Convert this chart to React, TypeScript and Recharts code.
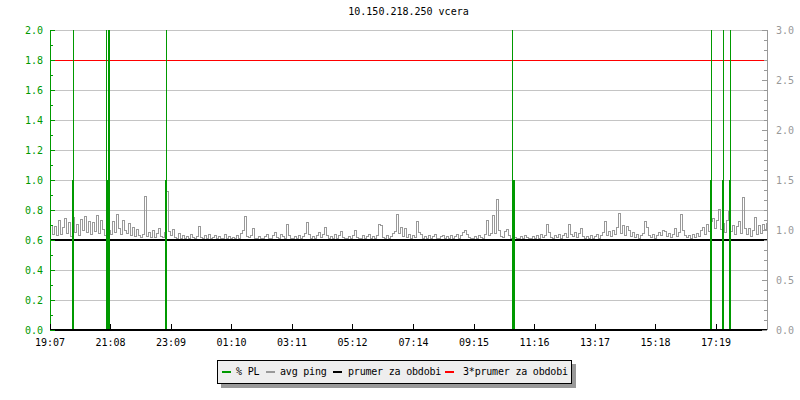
import { CartesianGrid, Line, LineChart, XAxis, YAxis } from 'recharts';

// minutes since 19:07
const timeDomain = [0, 1434];
const timeTicks = [0, 121, 242, 363, 484, 605, 727, 848, 969, 1090, 1211, 1332];
const timeLabels = ['19:07', '21:08', '23:09', '01:10', '03:11', '05:12', '07:14', '09:15', '11:16', '13:17', '15:18', '17:19'];

const plTicks = [0, 0.1, 0.2, 0.3, 0.4, 0.5, 0.6, 0.7, 0.8, 0.9, 1.0, 1.1, 1.2, 1.3, 1.4, 1.5, 1.6, 1.7, 1.8, 1.9, 2.0];
const plGrid = [0.2, 0.4, 0.6, 0.8, 1.0, 1.2, 1.4, 1.6, 1.8, 2.0];
const pingTicks = [
  0, 0.1, 0.2, 0.3, 0.4, 0.5, 0.6, 0.7, 0.8, 0.9, 1.0, 1.1, 1.2, 1.3, 1.4, 1.5,
  1.6, 1.7, 1.8, 1.9, 2.0, 2.1, 2.2, 2.3, 2.4, 2.5, 2.6, 2.7, 2.8, 2.9, 3.0,
];

// avg ping, one sample every 4 minutes
const pingStep = 4;
const pingValues = [
  1.05, 0.96, 1.04, 0.95, 1.1, 0.96, 1.03, 1.12, 0.97, 1.08, 0.94, 1.13, 0.98, 1.06, 0.95, 1.11, 1.0, 1.14, 0.98, 1.09,
  0.96, 1.08, 0.99, 1.15, 0.97, 1.1, 1.01, 0.95, 1.12, 1.0, 0.96, 1.09, 0.98, 1.16, 1.02, 0.96, 1.1, 1.0, 0.97, 1.07,
  0.95, 1.03, 0.94, 1.01, 0.95, 0.93, 0.96, 1.34, 0.94, 0.98, 0.93, 1.0, 0.93, 0.97, 1.02, 0.94, 0.93, 0.98, 1.39, 0.99,
  0.95, 1.01, 0.93, 0.92, 0.97, 0.92, 0.95, 0.92, 0.94, 0.92, 0.96, 0.93, 0.92, 0.94, 1.04, 0.93, 0.92, 0.95, 0.92, 0.96,
  0.92, 0.93, 0.95, 0.92, 0.94, 0.92, 0.92, 0.96, 0.92, 0.94, 0.92, 0.93, 0.92, 0.95, 0.92, 0.97, 1.0, 1.14, 0.94, 0.93,
  0.95, 1.02, 0.92, 0.92, 0.94, 0.92, 0.92, 0.94, 0.96, 0.92, 0.92, 0.95, 0.98, 0.93, 0.92, 0.96, 0.94, 0.92, 1.06, 0.95,
  0.92, 0.92, 0.94, 0.92, 0.95, 0.92, 0.94, 0.97, 1.08, 0.96, 0.92, 0.94, 0.92, 0.95, 0.98, 0.93, 0.96, 1.03, 0.95, 0.92,
  0.94, 0.92, 0.96, 0.92, 0.95, 0.99, 0.93, 0.92, 0.92, 0.94, 0.92, 0.95, 1.0, 0.93, 0.92, 0.92, 0.95, 0.92, 0.94, 0.96,
  0.92, 0.94, 0.92, 0.95, 1.06, 1.05, 0.93, 0.92, 0.95, 0.92, 0.94, 0.97, 0.99, 1.16, 0.97, 1.03, 0.94, 1.02, 0.93, 0.96,
  0.92, 0.95, 0.93, 1.09, 0.98, 0.96, 0.92, 0.94, 0.92, 0.95, 0.92, 0.94, 0.96, 0.92, 0.92, 0.94, 0.95, 0.92, 0.94, 0.92,
  0.95, 0.92, 0.94, 0.96, 0.92, 0.95, 0.98, 1.0, 0.96, 0.93, 0.92, 0.92, 0.94, 0.92, 0.95, 0.93, 0.92, 0.96, 1.1, 0.95,
  0.97, 1.15, 0.97, 1.31, 1.0, 0.94, 0.93, 0.99, 1.01, 0.95, 0.92, 0.95, 0.93, 0.92, 0.92, 0.94, 0.92, 0.95, 0.93, 0.92,
  0.92, 0.94, 0.92, 0.95, 0.92, 0.96, 0.93, 0.95, 1.06, 0.98, 0.93, 0.92, 0.95, 0.93, 0.96, 0.92, 0.95, 0.97, 0.93, 1.06,
  0.96, 0.94, 0.98, 0.93, 0.97, 1.02, 0.94, 0.92, 0.94, 0.92, 0.95, 0.92, 0.94, 0.96, 0.92, 0.95, 0.98, 1.09, 0.95, 0.99,
  0.94, 1.0, 0.96, 1.03, 1.17, 0.97, 1.05, 0.95, 1.04, 1.0, 0.94, 0.98, 0.93, 0.96, 0.92, 0.95, 0.97, 1.09, 1.03, 0.95,
  0.93, 0.96, 0.92, 0.95, 0.98, 0.95, 1.0, 0.99, 0.94, 0.97, 0.93, 0.96, 1.02, 0.94, 0.98, 1.16, 1.0, 0.95, 0.93, 0.95,
  0.92, 0.96, 0.93, 0.97, 0.94, 1.0, 1.03, 0.96, 1.06, 0.99, 1.09, 1.12, 1.02, 1.1, 1.21, 1.01, 1.07, 0.98, 1.1, 1.19,
  0.99, 1.05, 0.96, 1.04, 1.09, 0.97, 1.33, 1.02, 0.96, 1.02, 0.94, 1.0, 1.13, 0.96, 1.05, 0.97, 1.06, 1.01, 1.07,
];

// packet loss events (minute, solid level, thin peak)
const plEvents = [46, 113, 117, 232, 925, 927, 1322, 1346, 1360];
const plLevels = [1.0, 1.0, 2.0, 1.0, 1.0, 1.0, 1.0, 1.0, 1.0];
const plPeaks = [2.0, 2.0, 2.0, 2.0, 2.0, 1.0, 2.0, 2.0, 2.0];

const prumer = 0.9;
const triPrumer = 2.7;

const seriesNames = ['% PL', 'avg ping', 'prumer za obdobi', '3*prumer za obdobi'];
const seriesColors = ['#009900', '#999999', '#000000', '#ff0000'];

const FONT = '"DejaVu Sans Mono", monospace';
const GREEN = '#009900';
const GRAY = '#999999';

const pingData = pingValues.map((v, i) => ({ t: i * pingStep, v }));
const flatData = (v: number) => [
  { t: timeDomain[0], v },
  { t: timeDomain[1], v },
];
const spikes = (vals: number[]) =>
  plEvents.flatMap((t, i) => [
    { t, v: 0 },
    { t, v: vals[i] },
    { t, v: 0 },
    { t, v: null },
  ]);

const isMajor = (v: number, every: number) => Math.abs(Math.round(v * 10) % Math.round(every * 10)) === 0;

function LeftTick({ x, y, payload }: any) {
  const major = isMajor(payload.value, 0.2);
  return (
    <g>
      <line x1={x} x2={x + (major ? 5 : 3)} y1={y} y2={y} stroke={GREEN} />
      {major ? (
        <text x={x - 7} y={y + 4} textAnchor="end" fill={GREEN} fontSize={10} fontFamily={FONT}>
          {payload.value.toFixed(1)}
        </text>
      ) : null}
    </g>
  );
}

function RightTick({ x, y, payload }: any) {
  const major = isMajor(payload.value, 0.5);
  return (
    <g>
      <line x1={x} x2={x - (major ? 5 : 3)} y1={y} y2={y} stroke={GRAY} />
      {major ? (
        <text x={x + 9} y={y + 4} textAnchor="start" fill={GRAY} fontSize={10} fontFamily={FONT}>
          {payload.value.toFixed(1)}
        </text>
      ) : null}
    </g>
  );
}

function TimeTick({ x, y, payload }: any) {
  const idx = timeTicks.indexOf(payload.value);
  return (
    <g>
      <line x1={x} x2={x} y1={y} y2={y - 6} stroke="#000" />
      <text x={x} y={y + 16} textAnchor="middle" fill="#000" fontSize={10} fontFamily={FONT}>
        {timeLabels[idx]}
      </text>
    </g>
  );
}

const swatchX = [222, 266, 333, 445];
const textX = [236, 280, 348, 463];

export default function App() {
  return (
    <div
      style={{
        position: 'absolute',
        left: 0,
        top: 0,
        width: 800,
        height: 400,
        background: '#fff',
        shapeRendering: 'crispEdges',
      }}
    >
      <div
        style={{
          position: 'absolute',
          left: 50,
          width: 717,
          top: 6,
          textAlign: 'center',
          fontFamily: FONT,
          fontSize: 10,
          color: '#000',
        }}
      >
        10.150.218.250 vcera
      </div>
      <LineChart width={800} height={400} margin={{ top: 30, right: 0, left: 0, bottom: 50 }}>
        <CartesianGrid
          yAxisId="pl"
          vertical={false}
          horizontalValues={plGrid}
          stroke="#c4c4c4"
        />
        <XAxis
          dataKey="t"
          type="number"
          domain={timeDomain}
          ticks={timeTicks}
          interval={0}
          height={20}
          tickSize={0}
          tickMargin={0}
          tickLine={false}
          tick={<TimeTick />}
          axisLine={{ stroke: '#000', strokeWidth: 2 }}
          allowDataOverflow
        />
        <YAxis
          yAxisId="pl"
          orientation="left"
          type="number"
          domain={[0, 2]}
          ticks={plTicks}
          interval={0}
          width={50}
          tickSize={0}
          tickMargin={0}
          tickLine={false}
          tick={<LeftTick />}
          axisLine={{ stroke: GREEN }}
          allowDataOverflow
        />
        <YAxis
          yAxisId="ping"
          orientation="right"
          type="number"
          domain={[0, 3]}
          ticks={pingTicks}
          interval={0}
          width={33}
          tickSize={0}
          tickMargin={0}
          tickLine={false}
          tick={<RightTick />}
          axisLine={{ stroke: GRAY }}
          allowDataOverflow
        />
        <Line
          yAxisId="ping"
          data={pingData}
          dataKey="v"
          type="stepAfter"
          stroke={seriesColors[1]}
          strokeWidth={1}
          dot={false}
          activeDot={false}
          isAnimationActive={false}
        />
        <Line
          yAxisId="ping"
          data={flatData(prumer)}
          dataKey="v"
          type="linear"
          stroke={seriesColors[2]}
          strokeWidth={2}
          dot={false}
          activeDot={false}
          isAnimationActive={false}
        />
        <Line
          yAxisId="ping"
          data={flatData(triPrumer)}
          dataKey="v"
          type="linear"
          stroke={seriesColors[3]}
          strokeWidth={1}
          dot={false}
          activeDot={false}
          isAnimationActive={false}
        />
        <Line
          yAxisId="pl"
          data={spikes(plPeaks)}
          dataKey="v"
          type="linear"
          stroke={seriesColors[0]}
          strokeWidth={1}
          dot={false}
          activeDot={false}
          isAnimationActive={false}
        />
        <Line
          yAxisId="pl"
          data={spikes(plLevels)}
          dataKey="v"
          type="linear"
          stroke={seriesColors[0]}
          strokeWidth={2}
          dot={false}
          activeDot={false}
          isAnimationActive={false}
        />
      </LineChart>
      <div
        style={{
          position: 'absolute',
          left: 217,
          top: 360,
          width: 353,
          height: 22,
          background: '#eeeeee',
          border: '1px solid #000',
          boxShadow: '4px 4px 0 #999',
        }}
      />
      {seriesNames.map((name, i) => (
        <div key={name}>
          <div
            style={{
              position: 'absolute',
              left: swatchX[i],
              top: 371,
              width: 9,
              height: 2,
              background: seriesColors[i],
            }}
          />
          <div
            style={{
              position: 'absolute',
              left: textX[i],
              top: 365,
              fontFamily: FONT,
              fontSize: 10,
              letterSpacing: '-0.2px',
              lineHeight: '13px',
              color: '#000',
              whiteSpace: 'pre',
            }}
          >
            {name}
          </div>
        </div>
      ))}
    </div>
  );
}
